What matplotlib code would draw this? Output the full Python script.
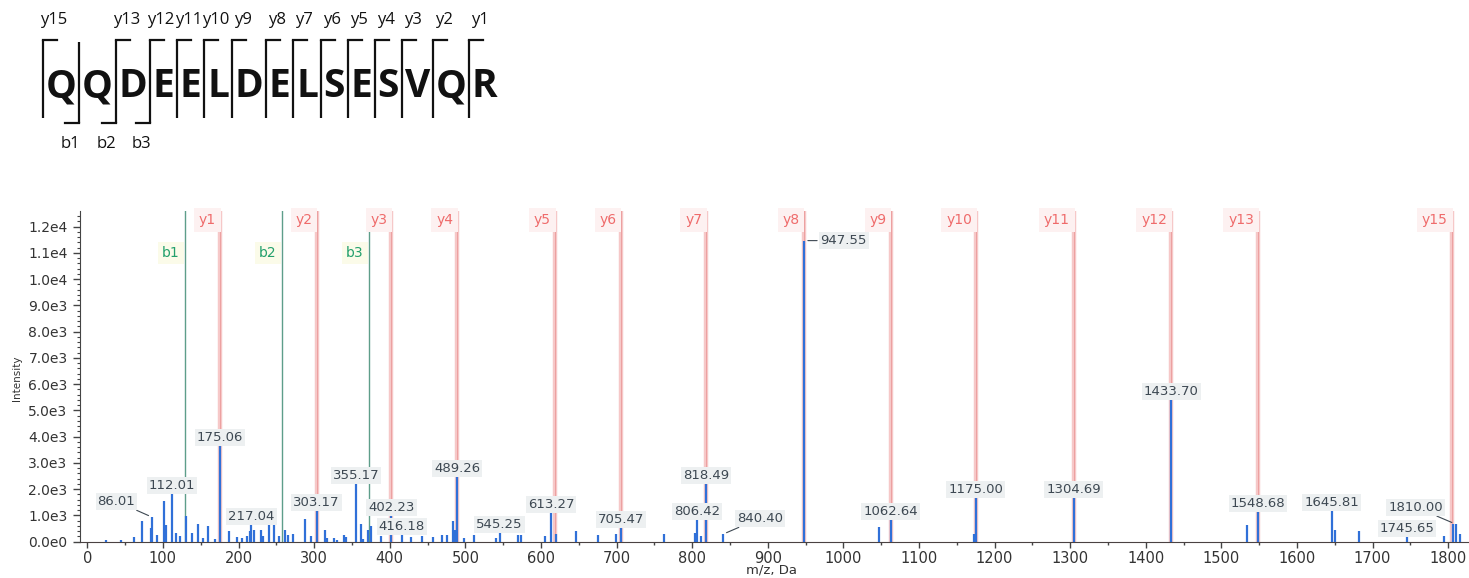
"""MS/MS spectrum of QQDEELDELSESVQR with b/y fragment annotation."""

import matplotlib

matplotlib.use("Agg")
import matplotlib.pyplot as plt
from matplotlib.ticker import FuncFormatter, MultipleLocator
import numpy as np

W, H = 1469, 578

# --- peptide / fragment data -------------------------------------------------
sequence = "QQDEELDELSESVQR"
y_bonds = [0, 2, 3, 4, 5, 6, 7, 8, 9, 10, 11, 12, 13, 14]  # y(15-i) after bond i
b_bonds = [1, 2, 3]

b_ion_names = ["b1", "b2", "b3"]
b_ion_mz = [129.07, 257.12, 372.15]

y_ion_names = ["y1", "y2", "y3", "y4", "y5", "y6", "y7", "y8", "y9", "y10",
               "y11", "y12", "y13", "y15"]
y_ion_mz = [175.12, 303.18, 402.25, 489.28, 618.32, 705.36, 818.44, 947.48,
            1062.51, 1175.59, 1304.64, 1433.68, 1548.71, 1804.83]

# --- spectrum peaks ---------------------------------------------------------
peak_mz = [25, 44, 62, 72.8, 84.3, 86.01, 91.8, 101.9, 104, 112.01, 117, 122.6,
           130.6, 138, 146.8, 152.6, 160, 169, 175.06, 187.8, 197.6, 204, 210.8,
           215.2, 217.04, 220.5, 229.4, 232.8, 240.7, 247, 254, 261.5, 266,
           271.7, 288, 295.5, 303.17, 314.4, 316.7, 326.7, 330.7, 340, 342.2,
           355.17, 361.6, 365, 370.9, 375.3, 388.5, 402.23, 416.18, 428, 443,
           457.7, 468.8, 475.4, 484, 486.4, 489.26, 498.3, 511.5, 540.6, 545.25,
           570, 573, 605.4, 613.27, 619.6, 646.4, 676, 699, 705.47, 762.8, 803.8,
           806.42, 811.8, 818.49, 840.40, 947.55, 1047.6, 1062.64, 1173, 1175.00,
           1304.69, 1433.70, 1533.6, 1548.68, 1645.81, 1650, 1682.5, 1745.65,
           1795, 1806, 1810.00, 1815.6]
peak_int = [60, 50, 170, 790, 520, 930, 250, 1560, 640, 1820, 340, 210,
            980, 340, 660, 150, 600, 100, 3650, 410, 170, 130, 200,
            400, 670, 450, 450, 200, 890, 790, 200, 450, 250,
            300, 860, 200, 1200, 450, 150, 150, 80, 250, 180,
            2220, 670, 100, 450, 600, 200, 1000, 270, 180, 220,
            180, 250, 270, 790, 450, 2500, 130, 250, 130, 340,
            270, 250, 200, 1100, 300, 400, 250, 280, 550, 280, 340,
            830, 200, 2220, 280, 11470, 550, 850, 280, 1690,
            1680, 5425, 640, 1140, 1200, 450, 400, 200,
            200, 670, 670, 280]

labelled_mz = [86.01, 112.01, 175.06, 217.04, 303.17, 355.17, 402.23, 416.18,
               489.26, 545.25, 613.27, 705.47, 806.42, 818.49, 840.40, 947.55,
               1062.64, 1175.00, 1304.69, 1433.70, 1548.68, 1645.81, 1745.65,
               1810.00]

# label placement (pixels from peak top); default sits just above the stick
label_offsets = {86.01: (-36, 16), 840.40: (37, 16), 947.55: (40, 0),
                 1810.00: (-40, 17)}
leader_labels = {86.01, 840.40, 947.55, 1810.00}

peak_blue = "#3070d8"
y_red = "#f6c8c8"
y_red_core = "#eca0a0"
b_green = "#5e9e8a"
label_text = "#3d4852"


def sci_fmt(v, _pos):
    if v == 0:
        return "0.0e0"
    e = int(np.floor(np.log10(abs(v))))
    return f"{v / 10 ** e:.1f}e{e}"


def main() -> None:
    fig = plt.figure(figsize=(W / 100, H / 100), dpi=100)

    # ---------------- spectrum ----------------
    ax = fig.add_axes([80 / W, 1 - 541.7 / H, (W - 80) / W, (541.7 - 211) / H])
    ax.set_xlim(-9.7, 1827.6)
    ax.set_ylim(0, 12598)

    for mz in y_ion_mz:
        ax.axvline(mz, color=y_red, lw=3.2, zorder=1)
        ax.axvline(mz, color=y_red_core, lw=0.7, zorder=1.1)
    for mz in b_ion_mz:
        ax.axvline(mz, color=b_green, lw=1.0, zorder=1.2)

    ax.vlines(peak_mz, 0, peak_int, color=peak_blue, lw=1.6, zorder=3)

    for name, mz in zip(y_ion_names, y_ion_mz):
        ax.annotate(name, xy=(mz, 12255), xytext=(-4, 0), textcoords="offset pixels",
                    ha="right", va="center", fontsize=10, color="#ef6b6b",
                    bbox=dict(boxstyle="square,pad=0.35", fc="#fdf1f1", ec="none"),
                    zorder=4)
    for name, mz in zip(b_ion_names, b_ion_mz):
        ax.annotate(name, xy=(mz, 10990), xytext=(-5, 0), textcoords="offset pixels",
                    ha="right", va="center", fontsize=10, color="#23a06c",
                    bbox=dict(boxstyle="square,pad=0.3", fc="#fbfbe9", ec="none"),
                    zorder=4)

    for mz in labelled_mz:
        h = peak_int[peak_mz.index(mz)]
        dx, dy = label_offsets.get(mz, (0, 8))
        arrow = None
        if mz in leader_labels:
            arrow = dict(arrowstyle="-", color=label_text, lw=0.8,
                         shrinkA=1, shrinkB=3)
        ax.annotate(f"{mz:.2f}", xy=(mz, h), xytext=(dx, dy),
                    textcoords="offset pixels", ha="center", va="center",
                    fontsize=9.5, color=label_text, arrowprops=arrow,
                    bbox=dict(boxstyle="square,pad=0.15", fc="#edf0f1", ec="none"),
                    zorder=5)

    ax.xaxis.set_major_locator(MultipleLocator(100))
    ax.xaxis.set_minor_locator(MultipleLocator(50))
    ax.yaxis.set_major_locator(MultipleLocator(1000))
    ax.yaxis.set_minor_locator(MultipleLocator(200))
    ax.yaxis.set_major_formatter(FuncFormatter(sci_fmt))
    ax.tick_params(axis="x", which="major", direction="out", length=4, width=1,
                   labelsize=10.5, pad=2.5, colors="#444444", labelcolor="#333333")
    ax.tick_params(axis="x", which="minor", direction="out", length=2.5, width=1,
                   colors="#444444")
    ax.tick_params(axis="y", which="major", direction="out", length=5, width=1,
                   labelsize=10, pad=4, colors="#444444", labelcolor="#333333")
    ax.tick_params(axis="y", which="minor", direction="out", length=2.5, width=0.8,
                   colors="#444444")
    for side in ("top", "right"):
        ax.spines[side].set_visible(False)
    ax.spines["left"].set_color("#444444")
    ax.spines["bottom"].set_color("#4a4242")

    fig.text(17 / W, 1 - 378 / H, "Intensity", rotation=90, ha="center",
             va="center", fontsize=7.5, color="#333333")
    fig.text(771 / W, 1 - 570 / H, "m/z, Da", ha="center", va="center",
             fontsize=9.5, color="#333333")

    # ---------------- peptide fragment map ----------------
    ov = fig.add_axes([0, 0, 1, 1], zorder=10)
    ov.set_xlim(0, W)
    ov.set_ylim(H, 0)
    ov.axis("off")
    ov.patch.set_alpha(0)

    seq_font = ["Open Sans", "DejaVu Sans"]
    renderer = fig.canvas.get_renderer()
    letters = [ov.text(0, 97, ch, fontsize=28, fontweight="bold", family=seq_font,
                       ha="left", va="baseline", color="#111111")
               for ch in sequence]
    widths = [t.get_window_extent(renderer).width for t in letters]
    x_start, x_end = 43, 500
    pad = (x_end - x_start - sum(widths)) / (2 * len(sequence))
    bars = []
    x = x_start
    for t, w in zip(letters, widths):
        bars.append(x)
        t.set_x(x + pad)
        x += w + 2 * pad

    for i, bx in enumerate(bars):
        has_y = i in y_bonds
        has_b = i in b_bonds
        if not (has_y or has_b):
            continue
        top = 40 if has_y else 42
        bottom = 123 if has_b else 118
        ov.plot([bx, bx], [top, bottom], color="#111111", lw=1.6,
                solid_capstyle="butt")
        if has_y:
            ov.plot([bx, bx + 14], [top, top], color="#111111", lw=1.6)
            ov.text(bx + 11, 20, f"y{len(sequence) - i}", ha="center", va="center",
                    fontsize=12, family=seq_font, color="#111111")
        if has_b:
            ov.plot([bx - 14, bx], [bottom, bottom], color="#111111", lw=1.6)
            ov.text(bx - 9, 144, f"b{i}", ha="center", va="center",
                    fontsize=12, family=seq_font, color="#111111")

    fig.savefig("out.png", dpi=100)


if __name__ == "__main__":
    main()
